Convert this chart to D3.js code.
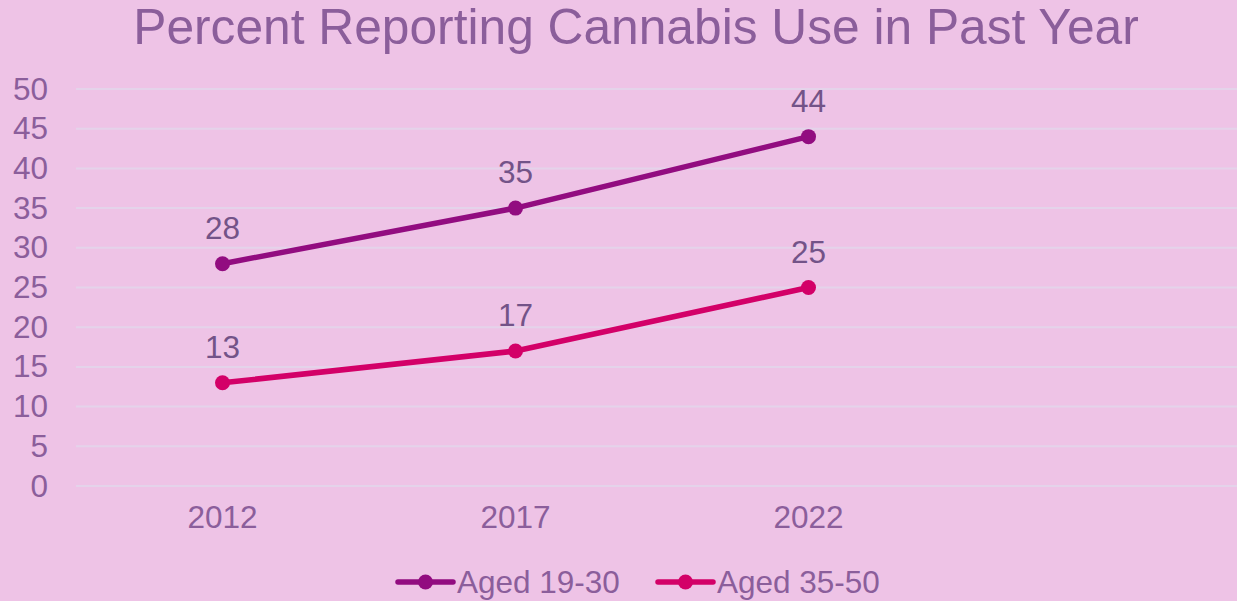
<!DOCTYPE html>
<html>
<head>
<meta charset="utf-8">
<script src="https://cdn.jsdelivr.net/npm/d3@7"></script>
<style>
  html, body { margin: 0; padding: 0; background: #EEC3E6; }
  svg { display: block; }
  text { font-family: "Liberation Sans", Arial, sans-serif; }
</style>
</head>
<body>
<svg id="chart" width="1237" height="601"></svg>
<script>
// Survey years (the fourth slot is left empty, as in the source layout)
const years = ["2012", "2017", "2022", ""];
const seriesNames = ["Aged 19-30", "Aged 35-50"];
const aged19to30 = [28, 35, 44];
const aged35to50 = [13, 17, 25];
const yTicks = [0, 5, 10, 15, 20, 25, 30, 35, 40, 45, 50];
const chartTitle = "Percent Reporting Cannabis Use in Past Year";

const W = 1237, H = 601;
const margin = { left: 76, right: -11, top: 89, bottom: 115 };
const colors = ["#920C80", "#D30068"];
const textColor = "#8B5E9B";
const labelColor = "#735388";
const fontSize = 31.5;

const svg = d3.select("#chart");
svg.append("rect").attr("width", W).attr("height", H).attr("fill", "#EEC3E6");

const x = d3.scaleBand()
  .domain(years)
  .range([margin.left, W - margin.right]);

const y = d3.scaleLinear()
  .domain([0, 50])
  .range([H - margin.bottom, margin.top]);

// Title
svg.append("text")
  .attr("x", 636).attr("y", 44)
  .attr("text-anchor", "middle")
  .attr("font-size", 49.7)
  .attr("fill", textColor)
  .text(chartTitle);

// Horizontal gridlines
svg.append("g")
  .selectAll("line")
  .data(yTicks)
  .join("line")
  .attr("x1", margin.left).attr("x2", W)
  .attr("y1", d => y(d)).attr("y2", d => y(d))
  .attr("stroke", "#E4D3EA")
  .attr("stroke-width", 2);

// Y axis labels
const yAxis = d3.axisLeft(y).tickValues(yTicks).tickSize(0).tickPadding(0);
const yg = svg.append("g").attr("transform", "translate(48,0)").call(yAxis);
yg.select(".domain").remove();
yg.selectAll("text")
  .attr("font-size", fontSize)
  .attr("fill", textColor)
  .attr("font-family", "Liberation Sans, Arial, sans-serif");

// X axis labels
const xAxis = d3.axisBottom(x).tickSize(0).tickPadding(0);
const xg = svg.append("g").attr("transform", `translate(0,${H - margin.bottom + 20})`).call(xAxis);
xg.select(".domain").remove();
xg.selectAll("text")
  .attr("font-size", fontSize)
  .attr("fill", textColor)
  .attr("font-family", "Liberation Sans, Arial, sans-serif");

const cx = i => x(years[i]) + x.bandwidth() / 2;

const line = d3.line()
  .x((d, i) => cx(i))
  .y(d => y(d));

[aged19to30, aged35to50].forEach((vals, s) => {
  const g = svg.append("g");
  g.append("path")
    .datum(vals)
    .attr("d", line)
    .attr("fill", "none")
    .attr("stroke", colors[s])
    .attr("stroke-width", 5.5)
    .attr("stroke-linecap", "round")
    .attr("stroke-linejoin", "round");
  g.selectAll("circle")
    .data(vals)
    .join("circle")
    .attr("cx", (d, i) => cx(i))
    .attr("cy", d => y(d))
    .attr("r", 7.5)
    .attr("fill", colors[s]);
  g.selectAll("text")
    .data(vals)
    .join("text")
    .attr("x", (d, i) => cx(i))
    .attr("y", d => y(d) - 25)
    .attr("text-anchor", "middle")
    .attr("font-size", fontSize)
    .attr("fill", labelColor)
    .text(d => d);
});

// Legend
const legendItems = [
  { x: 398, name: seriesNames[0], color: colors[0] },
  { x: 658, name: seriesNames[1], color: colors[1] }
];
const lg = svg.append("g");
legendItems.forEach(item => {
  const baseY = 582;
  lg.append("line")
    .attr("x1", item.x).attr("x2", item.x + 55)
    .attr("y1", baseY).attr("y2", baseY)
    .attr("stroke", item.color)
    .attr("stroke-width", 5.5)
    .attr("stroke-linecap", "round");
  lg.append("circle")
    .attr("cx", item.x + 27.5).attr("cy", baseY)
    .attr("r", 7.5)
    .attr("fill", item.color);
  lg.append("text")
    .attr("x", item.x + 59).attr("y", 593)
    .attr("font-size", fontSize)
    .attr("fill", textColor)
    .text(item.name);
});
</script>
</body>
</html>
